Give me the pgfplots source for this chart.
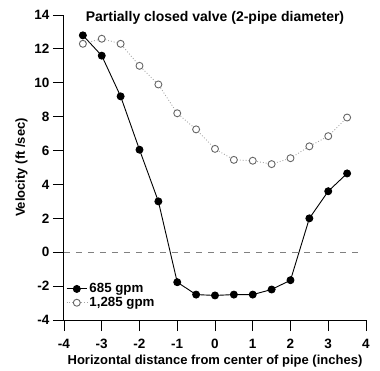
\documentclass[border=0pt]{standalone}
\usepackage{pgfplots}
\pgfplotsset{compat=1.18}
\usepackage{fontspec}
\setmainfont{Liberation Sans}
\begin{document}
\begin{tikzpicture}
\begin{axis}[
  scale only axis, width=302pt, height=305pt,
  xmin=-4, xmax=4, ymin=-4, ymax=14,
  axis x line*=bottom, axis y line*=left,
  axis line style={-, line width=1pt},
  xtick={-4,-3,...,4}, ytick={-4,-2,...,14},
  tick align=outside, major tick length=11pt,
  tick style={line width=0.9pt, black},
  /pgf/number format/assume math mode=true,
  tick label style={font=\bfseries\fontsize{13.5}{13.5}\selectfont},
  xticklabel style={yshift=-5pt},
  xlabel={\bfseries Horizontal distance from center of pipe (inches)},
  ylabel={\bfseries Velocity (ft /sec)},
  label style={font=\fontsize{13}{13}\selectfont},
  xlabel style={yshift=1pt},
  ylabel style={yshift=0pt},
  legend style={at={(rel axis cs:0.003,0.13)}, anchor=north west, draw=none, fill=none,
    font=\bfseries\fontsize{13.3}{13.3}\selectfont, row sep=-1pt, inner sep=1pt,
    /tikz/every even column/.append style={column sep=2pt}},
  legend image code/.code={\draw[mark repeat=2, mark phase=2] plot coordinates {(0cm,0cm) (0.36cm,0cm) (0.72cm,0cm)};},
  legend cell align=left,
  clip=false,
]
\addplot[gray, line width=0.9pt, dash pattern=on 6pt off 6pt, forget plot] coordinates {(-4,0) (3.8,0)};
\addplot[black, line width=0.9pt, mark=*, mark size=3.5pt, mark options={solid, fill=black}] coordinates {
(-3.5,12.8) (-3,11.6) (-2.5,9.2) (-2,6.05) (-1.5,3.0) (-1,-1.77) (-0.5,-2.5) (0,-2.55)
(0.5,-2.5) (1,-2.5) (1.5,-2.2) (2,-1.65) (2.5,2.0) (3,3.6) (3.5,4.65)};
\addlegendentry{685 gpm}
\addplot[gray!70, line width=0.9pt, dotted, mark=*, mark size=3.5pt, mark options={solid, fill=white, draw=gray!80!black, line width=0.9pt}] coordinates {
(-3.5,12.3) (-3,12.6) (-2.5,12.3) (-2,11.0) (-1.5,9.9) (-1,8.2) (-0.5,7.25) (0,6.1)
(0.5,5.45) (1,5.4) (1.5,5.2) (2,5.55) (2.5,6.25) (3,6.85) (3.5,7.95)};
\addlegendentry{1,285 gpm}
\node[font=\bfseries\fontsize{14}{14}\selectfont] at (rel axis cs:0.5,0.99) {Partially closed valve (2-pipe diameter)};
\end{axis}
\pgfresetboundingbox
\path[use as bounding box] (-64pt,-50pt) rectangle (316pt,320pt);
\end{tikzpicture}
\end{document}
